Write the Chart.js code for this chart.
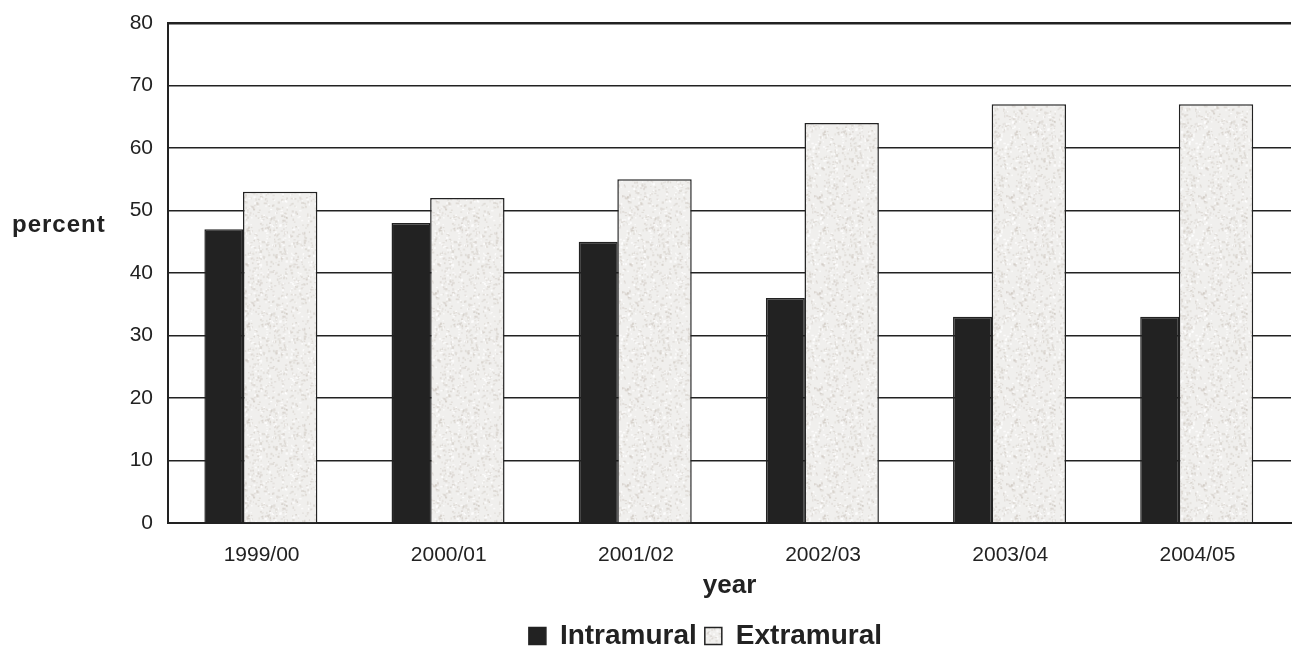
<!DOCTYPE html>
<html>
<head>
<meta charset="utf-8">
<script src="https://cdn.jsdelivr.net/npm/chart.js@4.4.1/dist/chart.umd.min.js"></script>
<style>
  html, body { margin: 0; padding: 0; background: #fff; }
  #wrap { width: 1292px; height: 649px; }
</style>
</head>
<body>
<div id="wrap"><canvas id="chart" width="1292" height="649"></canvas></div>
<script>
// Share of activity by year
const years = ['1999/00', '2000/01', '2001/02', '2002/03', '2003/04', '2004/05'];
const intramural = [47, 48, 45, 36, 33, 33];
const extramural = [53, 52, 55, 64, 67, 67];
const yMin = 0;
const yMax = 80;
const yStep = 10;

const INK = '#222222';
const FONT = '"Liberation Sans", Arial, Helvetica, sans-serif';

// Light stone-like fill for the extramural bars (fixed hash-based speckle)
function stoneFill() {
  const size = 96;
  const c = document.createElement('canvas');
  c.width = size; c.height = size;
  const g = c.getContext('2d');
  g.fillStyle = '#f0efed';
  g.fillRect(0, 0, size, size);
  let s = 12345;
  const next = () => { s = (s * 16807) % 2147483647; return s / 2147483647; };
  for (let i = 0; i < 900; i++) {
    const x = next() * size, y = next() * size, v = next();
    g.fillStyle = v < 0.45 ? 'rgba(190,178,168,0.30)' : (v < 0.7 ? 'rgba(215,210,205,0.45)' : 'rgba(255,255,255,0.7)');
    g.fillRect(x, y, 1 + next() * 1.5, 1 + next() * 1.5);
  }
  return g.createPattern(c, 'repeat');
}

Chart.defaults.font.family = FONT;
Chart.defaults.color = INK;

// Horizontal y-axis caption to the left of the tick labels
const sideCaption = {
  id: 'sideCaption',
  afterDraw(chart) {
    const ctx = chart.ctx;
    ctx.save();
    ctx.font = 'bold 24px ' + FONT;
    if ('letterSpacing' in ctx) ctx.letterSpacing = '1px';
    ctx.fillStyle = INK;
    ctx.textAlign = 'left';
    ctx.textBaseline = 'middle';
    ctx.fillText('percent', 12, 225);
    ctx.restore();
  }
};

new Chart(document.getElementById('chart'), {
  type: 'bar',
  data: {
    labels: years,
    datasets: [
      {
        label: 'Intramural',
        data: intramural,
        backgroundColor: INK,
        borderColor: INK,
        borderWidth: 1.5,
        categoryPercentage: 0.806,
        barPercentage: 0.517
      },
      {
        label: 'Extramural',
        data: extramural,
        backgroundColor: stoneFill(),
        borderColor: INK,
        borderWidth: 1.5,
        categoryPercentage: 0.3975,
        barPercentage: 2.0
      }
    ]
  },
  options: {
    responsive: false,
    animation: false,
    devicePixelRatio: 1,
    layout: { padding: { left: 120, right: 1, top: 23, bottom: -11 } },
    plugins: {
      tooltip: { enabled: false },
      legend: {
        position: 'bottom',
        labels: {
          font: { size: 28, weight: 'bold' },
          color: INK,
          boxWidth: 17,
          boxHeight: 17,
          padding: 8
        }
      }
    },
    scales: {
      x: {
        type: 'category',
        grid: {
          display: true,
          drawTicks: false,
          lineWidth: 1,
          color: (c) => (c.index === years.length ? '#8a8a8a' : 'rgba(0,0,0,0)')
        },
        border: { color: INK, width: 2 },
        ticks: { font: { size: 21 }, color: INK, padding: 20, maxRotation: 0 },
        title: {
          display: true,
          text: 'year',
          font: { size: 26, weight: 'bold' },
          color: INK,
          padding: { top: 0, bottom: 13 }
        },
        afterFit: (s) => { s.height = 91; s.paddingLeft = 0; s.paddingRight = 0; }
      },
      y: {
        min: yMin,
        max: yMax,
        ticks: { stepSize: yStep, font: { size: 21 }, color: INK, padding: 15 },
        grid: {
          drawTicks: false,
          color: INK,
          lineWidth: (c) => (c.tick && c.tick.value === yMax ? 2.5 : 1.5)
        },
        border: { color: INK, width: 2 },
        afterFit: (s) => { s.width = 48; s.paddingTop = 0; s.paddingBottom = 0; }
      }
    }
  },
  plugins: [sideCaption]
});
</script>
</body>
</html>
